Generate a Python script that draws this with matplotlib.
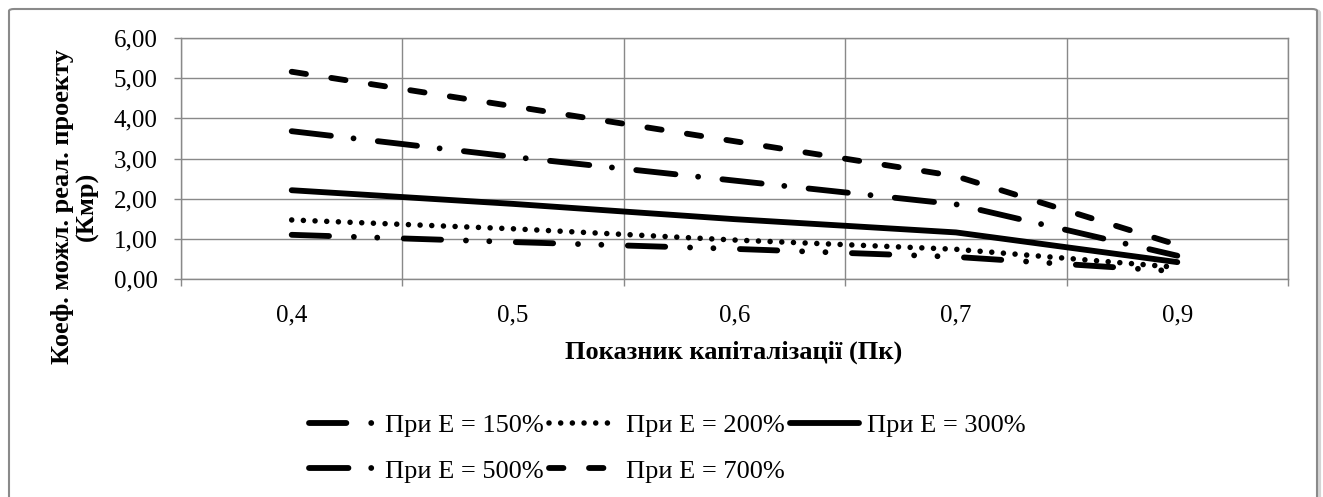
import matplotlib
matplotlib.use('Agg')
import matplotlib.pyplot as plt
from matplotlib.patches import FancyBboxPatch

plt.rcParams['font.family'] = 'Liberation Serif'
plt.rcParams['lines.scale_dashes'] = False

# data
categories = ['0,4', '0,5', '0,6', '0,7', '0,9']
e150 = [1.10, 0.92, 0.75, 0.55, 0.19]
e200 = [1.47, 1.25, 0.97, 0.74, 0.29]
e300 = [2.21, 1.87, 1.49, 1.16, 0.42]
e500 = [3.68, 3.04, 2.45, 1.86, 0.58]
e700 = [5.16, 4.30, 3.43, 2.56, 0.85]
series_labels = ['При Е = 150%', 'При Е = 200%', 'При Е = 300%',
                 'При Е = 500%', 'При Е = 700%']
y_ticks = [0, 1, 2, 3, 4, 5, 6]

W, H = 1323, 497
grid_c = '#898989'
fs = 18

fig = plt.figure(figsize=(W / 100, H / 100), dpi=100)

# chart frame (bottom edge runs off the picture)
shadow = FancyBboxPatch((11 / W, -0.05), 1308 / W, 1 - 11 / H + 0.05,
                        boxstyle='round,pad=0,rounding_size=0.004',
                        transform=fig.transFigure, facecolor='none',
                        edgecolor='#d4d4d4', lw=3, zorder=-2)
frame = FancyBboxPatch((9 / W, -0.05), 1308 / W, 1 - 9 / H + 0.05,
                       boxstyle='round,pad=0,rounding_size=0.004',
                       transform=fig.transFigure, facecolor='white',
                       edgecolor='#8a8a8a', lw=1.5, zorder=-1)
fig.patches.extend([shadow, frame])

ax = fig.add_axes([181 / W, 1 - 279 / H, 1107 / W, 241 / H])
ax.set_facecolor('none')

x = list(range(len(categories)))
styles = [
    dict(dashes=[26.9, 17.9, 0.01, 16.8, 0.01, 19.1], lw=4.2),   # 150
    dict(dashes=[0.01, 8.4], lw=4.0),                          # 200
    dict(dashes=None, lw=4.2),                                 # 300
    dict(dashes=[28.4, 16.4, 0.01, 17.6], lw=4.2),             # 500
    dict(dashes=[10.4, 18.4], lw=4.2),                         # 700
]
handles = []
for vals, lab, st in zip([e150, e200, e300, e500, e700], series_labels, styles):
    if st['dashes'] is None:
        ln, = ax.plot(x, vals, color='black', lw=st['lw'],
                      solid_capstyle='round', solid_joinstyle='round', label=lab)
    else:
        ln, = ax.plot(x, vals, color='black', lw=st['lw'], dashes=st['dashes'],
                      dash_capstyle='round', dash_joinstyle='round', label=lab)
    handles.append(ln)

ax.set_xlim(-0.5, len(categories) - 0.5)
ax.set_ylim(y_ticks[0], y_ticks[-1])

ax.set_xticks([i - 0.5 for i in range(len(categories) + 1)])
ax.set_xticklabels([])
ax.set_xticks(x, minor=True)
ax.set_xticklabels(categories, minor=True)
ax.tick_params(axis='x', which='major', length=5, width=1, color=grid_c)
ax.tick_params(axis='x', which='minor', length=0, pad=18, labelsize=fs)

ax.set_yticks(y_ticks)
ax.set_yticklabels([f'{v:.2f}'.replace('.', ',') for v in y_ticks])
ax.tick_params(axis='y', length=5, width=1, color=grid_c, pad=12, labelsize=fs)

ax.grid(True, which='major', color=grid_c, lw=1)
ax.set_axisbelow(True)
for sp in ax.spines.values():
    sp.set_color(grid_c)
    sp.set_linewidth(1)

fig.text(734 / W, 1 - 352 / H, 'Показник капіталізації (Пк)',
         ha='center', va='center', fontsize=19, fontweight='bold')
fig.text(75 / W, 1 - 206 / H, 'Коеф. можл. реал. проекту\n(Кмр)',
         ha='center', va='center', rotation=90, fontsize=19,
         fontweight='bold', multialignment='center', linespacing=1.1)

# legend: row-major order in a 3-column legend
order = [0, 3, 1, 4, 2]
fig.legend([handles[i] for i in order], [series_labels[i] for i in order],
           loc='center', bbox_to_anchor=(667 / W, 1 - 448 / H), ncol=3,
           frameon=False, fontsize=19, handlelength=2.6, handletextpad=0.3,
           columnspacing=0.2, labelspacing=0.85, borderpad=0)

fig.savefig('out.png', dpi=100)
